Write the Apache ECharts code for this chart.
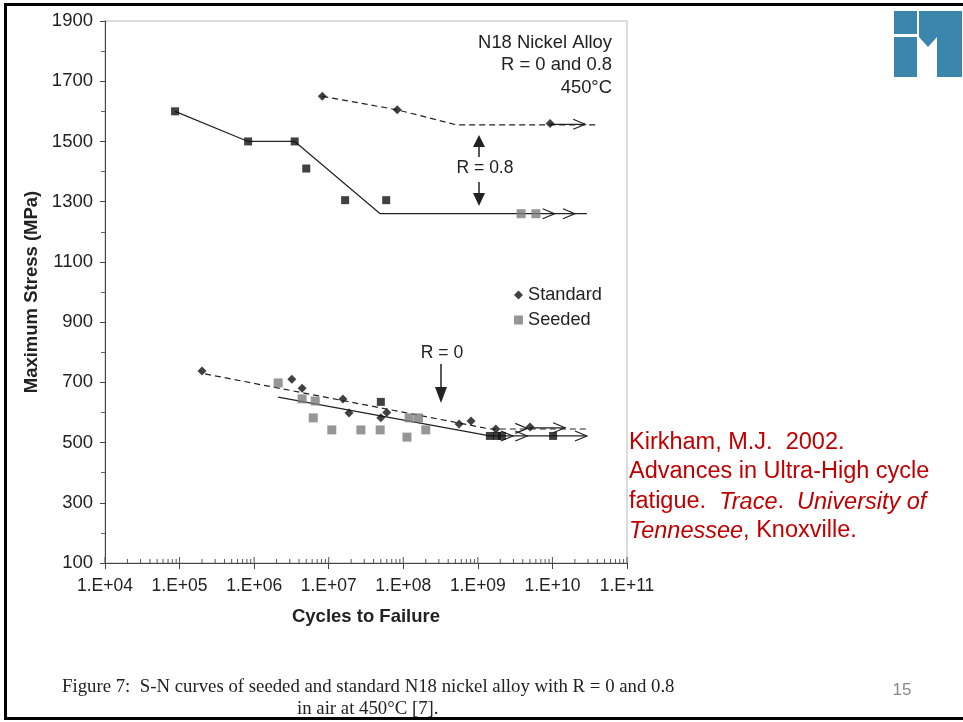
<!DOCTYPE html>
<html><head><meta charset="utf-8">
<script src="https://cdn.jsdelivr.net/npm/echarts@6/dist/echarts.min.js"></script>
<style>html,body{margin:0;padding:0;background:#fff}#c{width:963px;height:722px}</style>
</head><body><div id="c"></div>
<script>
// ---- tick labels ----
const xTickLabels = ['1.E+04','1.E+05','1.E+06','1.E+07','1.E+08','1.E+09','1.E+10','1.E+11'];
const minorMultipliers = [2,3,4,5,6,7,8,9];

// ---- R = 0.8 ----
const r08StdPts = [[8.2e6,1650],[8.3e7,1605],[9.3e9,1560]];
const r08StdCurve = [[8.2e6,1650],[8.3e7,1605],[5.2e8,1555],[4.1e10,1555]];
const r08BlackPts = [[8.7e4,1600],[8.3e5,1500],[3.5e6,1500],[5.0e6,1410],[1.66e7,1305],[5.9e7,1305]];
const r08SolidCurve = [[8.7e4,1600],[8.3e5,1500],[3.5e6,1500],[4.9e7,1260],[2.9e10,1260]];
const r08SeededPts = [[3.8e9,1260],[6.0e9,1260]];

// ---- R = 0 ----
const r0StdPts = [[2.0e5,738],[3.2e6,710],[4.4e6,680],[1.55e7,645],[1.87e7,598],[5.0e7,582],[6.0e7,600],[5.6e8,562],[8.1e8,572],[1.74e9,545],[5.0e9,552]];
const r0StdCurve = [[2.2e5,728],[1.45e9,545],[3.0e10,545]];
const r0BlackPts = [[5.0e7,635],[1.45e9,522],[1.8e9,522],[2.1e9,522],[1.02e10,522]];
const r0SeededPts = [[2.1e6,698],[4.4e6,645],[6.6e6,638],[6.2e6,582],[1.1e7,542],[2.7e7,542],[4.9e7,542],[1.12e8,518],[1.2e8,582],[1.6e8,582],[2.0e8,542]];
const r0SeededCurve = [[2.1e6,651],[1.45e9,522],[2.9e10,522]];

// ---- run-out arrows: [tail start, tip, stress] ----
const runouts = [[1.07e10,1.07e10,1260],[2.0e10,2.0e10,1260],[9.3e9,2.75e10,1557],
                 [2.95e9,2.95e9,522],[4.6e9,4.6e9,522],[2.9e10,2.9e10,522],
                 [4.6e9,4.6e9,547],[5.0e9,1.48e10,549]];

const F = '"Liberation Sans", Arial, sans-serif';
const FS = '"Liberation Serif", "Times New Roman", serif';
const INK = '#222';
const RED = '#c00000';

const xMinorTicks = [];
xTickLabels.forEach((_, i) => {
  const base = Math.pow(10, i + 4);
  xMinorTicks.push([base, 6]);
  if (i < xTickLabels.length - 1) minorMultipliers.forEach(m => xMinorTicks.push([m * base, 4]));
});

function redText(text, y, rich) {
  const st = {text: text, font: '23.5px ' + F, fill: RED, textVerticalAlign: 'middle'};
  if (rich) st.rich = {n: {fontSize: 23.5, fontFamily: F, fill: RED}, i: {fontSize: 23.5, fontFamily: F, fontStyle: 'italic', fill: RED}};
  return {type: 'text', x: 629, y: y, style: st};
}

const chart = echarts.init(document.getElementById('c'));
chart.setOption({
  animation: false,
  backgroundColor: '#fff',
  grid: {left: 105, right: 336, top: 21, bottom: 159, show: true, borderColor: '#b8b8b8', borderWidth: 1},
  xAxis: {
    type: 'log', logBase: 10, min: 1e4, max: 1e11, interval: 1,
    axisLine: {lineStyle: {color: '#444'}},
    axisTick: {length: 6, lineStyle: {color: '#444'}},
    splitLine: {show: false},
    axisLabel: {formatter: v => xTickLabels[Math.round(Math.log10(v)) - 4], fontFamily: F, fontSize: 17.5, color: INK, margin: 14},
    name: 'Cycles to Failure', nameLocation: 'middle', nameGap: 44,
    nameTextStyle: {fontFamily: F, fontWeight: 'bold', fontSize: 18.5, color: INK}
  },
  yAxis: {
    type: 'value', min: 100, max: 1900, interval: 200,
    axisLine: {show: true, lineStyle: {color: '#444'}},
    axisTick: {show: true, length: 5, lineStyle: {color: '#444'}},
    minorTick: {show: true, splitNumber: 2, length: 4, lineStyle: {color: '#666'}},
    splitLine: {show: false}, minorSplitLine: {show: false},
    axisLabel: {formatter: v => String(v), fontFamily: F, fontSize: 18.5, color: INK, margin: 12},
    name: 'Maximum Stress (MPa)', nameLocation: 'middle', nameGap: 64,
    nameTextStyle: {fontFamily: F, fontWeight: 'bold', fontSize: 18.5, color: INK}
  },
  legend: {
    left: 509, top: 281, orient: 'vertical', itemWidth: 9, itemHeight: 9, itemGap: 7,
    textStyle: {fontFamily: F, fontSize: 18.2, color: INK},
    data: [{name: 'Standard', icon: 'diamond'}, {name: 'Seeded', icon: 'rect'}]
  },
  series: [
    {type: 'custom', silent: true, clip: false, data: xMinorTicks,
     renderItem: (p, api) => {
       const c = api.coord([api.value(0), 100]);
       return {type: 'line', shape: {x1: c[0], y1: c[1], x2: c[0], y2: c[1] - api.value(1)}, style: {stroke: '#555', lineWidth: 1}};
     }},
    {type: 'line', data: r08SolidCurve, symbol: 'none', lineStyle: {color: INK, width: 1.2}, z: 2},
    {type: 'line', data: r08StdCurve, symbol: 'none', lineStyle: {color: INK, width: 1.2, type: [6, 4]}, z: 2},
    {type: 'line', data: r0SeededCurve, symbol: 'none', lineStyle: {color: INK, width: 1.2}, z: 2},
    {type: 'line', data: r0StdCurve, symbol: 'none', lineStyle: {color: INK, width: 1.2, type: [6, 4]}, z: 2},
    {type: 'custom', data: runouts, z: 3, encode: {x: [0, 1], y: 2},
     renderItem: (p, api) => {
       const a = api.coord([api.value(0), api.value(2)]);
       const b = api.coord([api.value(1), api.value(2)]);
       const ch = [];
       if (b[0] - a[0] > 1) ch.push({type: 'line', shape: {x1: a[0], y1: a[1], x2: b[0], y2: b[1]}, style: {stroke: INK, lineWidth: 1.2}});
       ch.push({type: 'polyline', shape: {points: [[b[0] - 12, b[1] - 5], [b[0], b[1]], [b[0] - 12, b[1] + 5]]}, style: {stroke: INK, lineWidth: 1.2, fill: null}});
       return {type: 'group', children: ch};
     }},
    {name: 'Seeded', type: 'scatter', data: r08SeededPts.concat(r0SeededPts), symbol: 'rect', symbolSize: 9, itemStyle: {color: '#7c7c7c'}, z: 4},
    {name: 'Black', type: 'scatter', data: r08BlackPts.concat(r0BlackPts), symbol: 'rect', symbolSize: 8, itemStyle: {color: '#111'}, z: 5},
    {name: 'Standard', type: 'scatter', data: r08StdPts.concat(r0StdPts), symbol: 'diamond', symbolSize: 9, itemStyle: {color: '#111'}, z: 5}
  ],
  graphic: [
    {type: 'rect', shape: {x: 5.5, y: 4.5, width: 1000, height: 714}, style: {stroke: '#000', lineWidth: 3, fill: null}, z: 100},
    {type: 'text', x: 612, y: 43, style: {text: 'N18 Nickel Alloy', font: '18.4px ' + F, fill: INK, textAlign: 'right', textVerticalAlign: 'middle'}},
    {type: 'text', x: 612, y: 65, style: {text: 'R = 0 and 0.8', font: '18.4px ' + F, fill: INK, textAlign: 'right', textVerticalAlign: 'middle'}},
    {type: 'text', x: 612, y: 88, style: {text: '450°C', font: '18.4px ' + F, fill: INK, textAlign: 'right', textVerticalAlign: 'middle'}},
    // R = 0.8 annotation
    {type: 'text', x: 485, y: 168, style: {text: 'R = 0.8', font: '17.5px ' + F, fill: INK, textAlign: 'center', textVerticalAlign: 'middle'}},
    {type: 'line', shape: {x1: 479, y1: 146, x2: 479, y2: 157}, style: {stroke: INK, lineWidth: 1.5}},
    {type: 'polygon', shape: {points: [[479, 135], [473, 147], [485, 147]]}, style: {fill: INK}},
    {type: 'line', shape: {x1: 479, y1: 182, x2: 479, y2: 194}, style: {stroke: INK, lineWidth: 1.5}},
    {type: 'polygon', shape: {points: [[479, 206], [473, 193], [485, 193]]}, style: {fill: INK}},
    // R = 0 annotation
    {type: 'text', x: 442, y: 353, style: {text: 'R = 0', font: '17.5px ' + F, fill: INK, textAlign: 'center', textVerticalAlign: 'middle'}},
    {type: 'line', shape: {x1: 441, y1: 364, x2: 441, y2: 388}, style: {stroke: INK, lineWidth: 1.5}},
    {type: 'polygon', shape: {points: [[441, 403], [435, 387], [447, 387]]}, style: {fill: INK}},
    // citation
    redText('Kirkham, M.J.  2002.', 443),
    redText('Advances in Ultra-High cycle', 472),
    redText('{n|fatigue.  }{i|Trace}{n|.  }{i|University of}', 502, true),
    redText('{i|Tennessee}{n|, Knoxville.}', 531, true),
    // caption
    {type: 'text', x: 62, y: 687, style: {text: 'Figure 7:  S-N curves of seeded and standard N18 nickel alloy with R = 0 and 0.8', font: '18.8px ' + FS, fill: INK, textVerticalAlign: 'middle'}},
    {type: 'text', x: 297, y: 709, style: {text: 'in air at 450°C [7].', font: '18.8px ' + FS, fill: INK, textVerticalAlign: 'middle'}},
    {type: 'text', x: 902, y: 690, style: {text: '15', font: '17px ' + F, fill: '#888', textAlign: 'center', textVerticalAlign: 'middle'}},
    // logo
    {type: 'rect', shape: {x: 894, y: 11, width: 23, height: 23}, style: {fill: '#3a86ad'}},
    {type: 'rect', shape: {x: 894, y: 37, width: 23, height: 40}, style: {fill: '#3a86ad'}},
    {type: 'polygon', shape: {points: [[919, 11], [962, 11], [962, 77], [937, 77], [937, 37], [928, 47], [919, 37]]}, style: {fill: '#3a86ad'}}
  ]
});
</script></body></html>
